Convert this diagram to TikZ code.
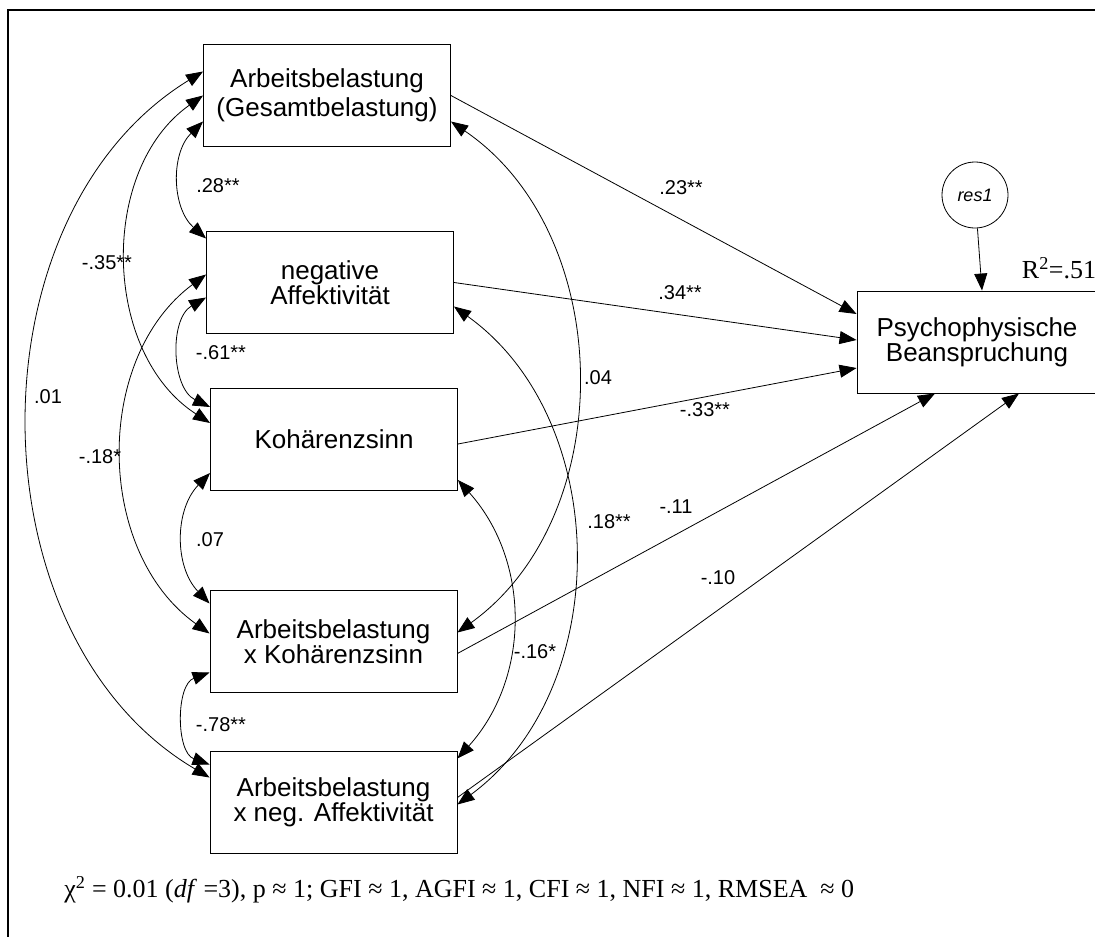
\documentclass[tikz,border=0pt]{standalone}
\usepackage{fontspec}
\setmainfont{Liberation Sans}
\newfontfamily\timesfont{Liberation Serif}
\usetikzlibrary{arrows.meta}

\tikzset{
  var/.style={draw, line width=0.9pt, minimum width=247pt, minimum height=102pt,
    inner sep=0pt, align=center, font=\fontsize{26}{23}\selectfont},
  coef/.style={inner sep=0pt, font=\fontsize{20}{20}\selectfont},
  >={Triangle[length=17pt,width=13pt]},
}

\begin{document}
\begin{tikzpicture}[x=1pt, y=-1pt, line width=0.8pt]
    \useasboundingbox (0,0) rectangle (1095,937);
    \draw[line width=2pt] (1095,10) -- (8,10) -- (8,937);

    % variables
    \node[var, font=\fontsize{26}{29}\selectfont] (arb) at (327,95.5) {Arbeitsbelastung\\(Gesamtbelastung)};
    \node[var] (neg) at (330,282.5) {negative\\Affektivität};
    \node[var] (koh) at (334,439) {Kohärenzsinn};
    \node[var] (axk) at (333.5,641.5) {Arbeitsbelastung\\x Kohärenzsinn};
    \node[var] (axn) at (333.5,802.5) {Arbeitsbelastung\\x neg. Affektivität};
    \node[var, minimum width=246pt, font=\fontsize{26}{25}\selectfont] (psy) at (980,342) {\hspace*{-6pt}Psychophysische\\\hspace*{-6pt}Beanspruchung};
    \node[draw, circle, line width=0.8pt, minimum size=66pt, inner sep=0pt,
          font=\itshape\fontsize{18}{18}\selectfont] (res) at (975,195) {res1};

    % correlations, left
    \draw[<->] ([yshift=-26pt]arb.west) to[bend right=47] ([yshift=44pt]neg.west);
    \draw[<->] (arb.west) to[bend right=56] ([yshift=16pt]koh.west);
    \draw[<->] ([yshift=24pt]arb.west) to[bend right=59] ([yshift=25pt]axn.west);
    \draw[<->] ([yshift=-15pt]neg.west) to[bend right=62] ([yshift=32pt]koh.west);
    \draw[<->] ([yshift=8pt]neg.west) to[bend right=54] ([yshift=8pt]axk.west);
    \draw[<->] ([yshift=-34pt]koh.west) to[bend right=44] ([yshift=38pt]axk.west);
    \draw[<->] ([yshift=-31pt]axk.west) to[bend right=70] ([yshift=38pt]axn.west);

    % correlations, right
    \draw[<->] ([yshift=-26pt]arb.east) to[bend left=55] ([yshift=9pt]axk.east);
    \draw[<->] ([yshift=-24pt]neg.east) to[bend left=54] ([yshift=-2pt]axn.east);
    \draw[<->] ([yshift=-41pt]koh.east) to[bend left=42] ([yshift=44pt]axn.east);

    % paths
    \draw[->] (arb.east) -- ([yshift=28pt]psy.west);
    \draw[->] (neg.east) -- ([yshift=2pt]psy.west);
    \draw[->] ([yshift=-5pt]koh.east) -- ([yshift=-26pt]psy.west);
    \draw[->] ([yshift=-12pt]axk.east) -- ([xshift=-45pt]psy.south);
    \draw[->] ([yshift=5pt]axn.east) -- ([xshift=39pt]psy.south);
    \draw[->] (res) -- ([xshift=2pt]psy.north);

    % coefficients
    \node[coef] (c1) at (218,186) {.28**};
    \node[coef] (c2) at (107,263) {-.35**};
    \node[coef] (c3) at (48,397) {.01};
    \node[coef] (c4) at (221,353) {-.61**};
    \node[coef] (c5) at (100,457) {-.18*};
    \node[coef] (c6) at (210,540) {.07};
    \node[coef] (c7) at (221,725) {-.78**};
    \node[coef] (c8) at (598,378) {.04};
    \node[coef] (c9) at (609,522) {.18**};
    \node[coef] (c10) at (535,652) {-.16*};
    \node[coef] (p1) at (681,188) {.23**};
    \node[coef] (p2) at (680,293) {.34**};
    \node[coef] (p3) at (705,410) {-.33**};
    \node[coef] (p4) at (676,507) {-.11};
    \node[coef] (p5) at (718,578) {-.10};

    \node[inner sep=0pt, font=\timesfont\fontsize{26}{26}\selectfont] (rsq) at (1059,268) {R\textsuperscript{2}=.51};
    \node[anchor=west, inner sep=0pt, font=\timesfont\fontsize{26}{26}\selectfont] (fit) at (64,890)
        {χ\textsuperscript{2} = 0.01 (\textit{df} =3), p ≈ 1; GFI ≈ 1, AGFI ≈ 1, CFI ≈ 1, NFI ≈ 1, RMSEA~ ≈ 0};
\end{tikzpicture}
\end{document}
